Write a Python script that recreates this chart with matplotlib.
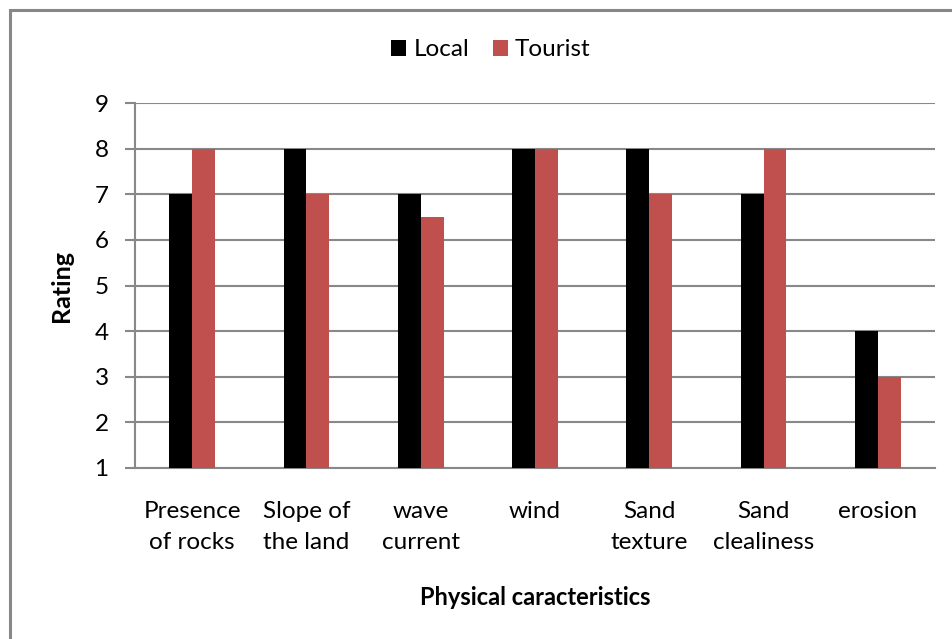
import matplotlib
matplotlib.use("Agg")
import matplotlib.pyplot as plt
from matplotlib.patches import Rectangle
import numpy as np

categories = ["Presence\nof rocks", "Slope of\nthe land", "wave\ncurrent", "wind",
              "Sand\ntexture", "Sand\nclealiness", "erosion"]
local = [7, 8, 7, 8, 8, 7, 4]
tourist = [8, 7, 6.5, 8, 7, 8, 3]
y_ticks = [1, 2, 3, 4, 5, 6, 7, 8, 9]
series_names = ["Local", "Tourist"]

plt.rcParams['font.family'] = ['Lato', 'DejaVu Sans']

W, H = 952, 639
fig = plt.figure(figsize=(W / 100, H / 100), dpi=100)
fig.patch.set_facecolor("white")

# outer chart border (runs past the right and bottom edges)
fig.add_artist(Rectangle((10 / W, -0.1), 1.2, 1 - 10 / H + 0.1,
                         transform=fig.transFigure, fill=False,
                         edgecolor="#878787", linewidth=2.2))

left, right, top, bottom = 135, 935, 103, 468
ax = fig.add_axes([left / W, 1 - bottom / H, (right - left) / W, (bottom - top) / H])

x = np.arange(len(categories))
bw = 0.2
base = 1
ax.bar(x - bw / 2, np.array(local) - base, bw, bottom=base, color="#000000",
       label=series_names[0], zorder=3)
ax.bar(x + bw / 2, np.array(tourist) - base, bw, bottom=base, color="#C0504D",
       label=series_names[1], zorder=3)

ax.set_xlim(-0.5, len(categories) - 0.5)
ax.set_ylim(1, 9)
ax.set_yticks(y_ticks)
ax.yaxis.grid(True, color="#888888", linewidth=1.5, zorder=0)
ax.set_axisbelow(True)
for s in ["top", "right"]:
    ax.spines[s].set_visible(False)
ax.spines["left"].set_color("#888888")
ax.spines["bottom"].set_color("#888888")
ax.spines["left"].set_linewidth(1.5)
ax.spines["bottom"].set_linewidth(1.5)
ax.tick_params(axis="y", length=7, width=1.5, color="#888888", labelsize=17.5, pad=12)
ax.tick_params(axis="x", length=0, labelsize=17.5, pad=24)
ax.set_xticks(x)
ax.set_xticklabels(categories, linespacing=1.55)

ax.set_ylabel("Rating", fontsize=18, fontweight="bold")
ax.yaxis.set_label_coords((73 - left) / (right - left), 0.5)
ax.set_xlabel("Physical caracteristics", fontsize=17, fontweight="bold")
ax.xaxis.set_label_coords(0.5, -(586 - bottom) / (bottom - top))

ax.legend(loc="center", bbox_to_anchor=(491 / W, 1 - 50 / H),
          bbox_transform=fig.transFigure, ncol=2, frameon=False, fontsize=17.5,
          handlelength=0.62, handleheight=0.62, handletextpad=0.3,
          columnspacing=0.95, borderpad=0)

fig.savefig("out.png", dpi=100, facecolor="white")
